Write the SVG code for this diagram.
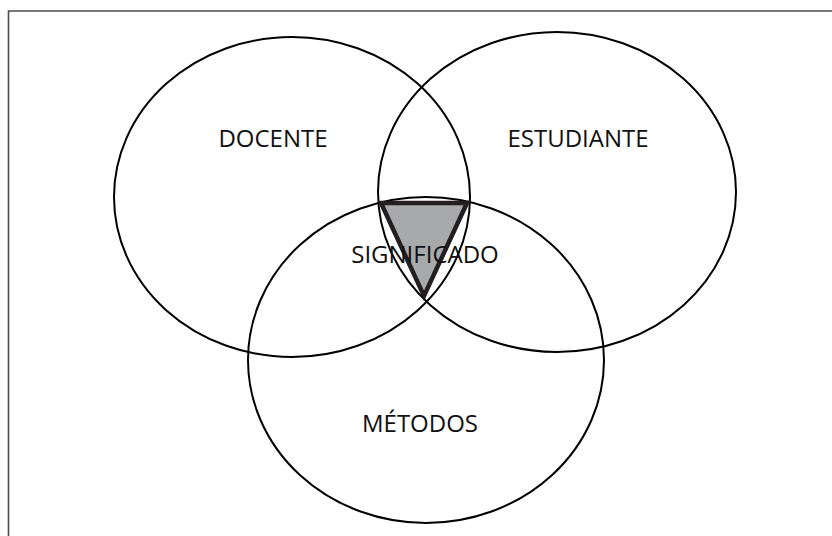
<svg xmlns="http://www.w3.org/2000/svg" width="832" height="536" viewBox="0 0 832 536">
<style>
.c{fill:none;stroke:#000;stroke-width:2}
.t{font-family:"Open Sans","Noto Sans",sans-serif;font-size:24px;fill:#111;text-anchor:middle}
</style>
<rect width="832" height="536" fill="#fff"/>
<path d="M8.5,536 V11 H832" fill="none" stroke="#4d4d4d" stroke-width="1.6"/>
<g id="docente"><ellipse class="c" cx="292" cy="197" rx="178" ry="160"/></g>
<g id="estudiante"><ellipse class="c" cx="557" cy="192" rx="179" ry="160"/></g>
<g id="metodos"><ellipse class="c" cx="426" cy="360" rx="178" ry="163"/></g>
<g id="significado"><polygon points="381,203 467,203 424,296" fill="#a7a9ab" stroke="#231f20" stroke-width="4.5" stroke-linejoin="miter"/></g>
<g id="labels">
<text class="t" x="273" y="147">DOCENTE</text>
<text class="t" x="578" y="147">ESTUDIANTE</text>
<text class="t" x="425" y="263">SIGNIFICADO</text>
<text class="t" x="420" y="432">MÉTODOS</text>
</g>
</svg>
